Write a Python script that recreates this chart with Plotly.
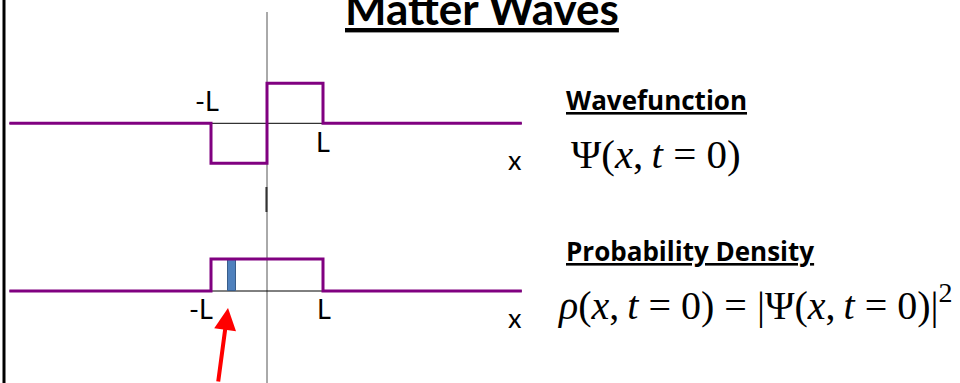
import plotly.graph_objects as go

# Step wavefunction at t = 0, x in units of L
psi_x = [-4.6, -1, -1, 0, 0, 1, 1, 4.55]
psi_y = [0, 0, -1, -1, 1, 1, 0, 0]

# Probability density is |psi|^2 on the same grid
rho_x = psi_x
rho_y = [v * v for v in psi_y]

# Highlighted slice dx of the probability density
slice_x = [-0.63]
slice_w = [0.14]
slice_h = [1.0]

# Axis extent and tick labels
axis_x = [-4.6, 4.55]
tick_vals = [-1, 1]
tick_text = ["-L", "L"]

W, H = 960, 383
PURPLE = "#800080"
SANS = "Lato"
SERIF = "Liberation Serif"
THIN = "\u2009"


def px(x):
    return x / W


def py(y):
    return 1 - y / H


fig = go.Figure()

fig.add_trace(go.Bar(
    x=slice_x, y=slice_h, width=slice_w, yaxis="y2",
    marker=dict(color="#4F81BD", line=dict(color="#385D8A", width=1)),
    showlegend=False, hoverinfo="skip",
))
fig.add_trace(go.Scatter(
    x=psi_x, y=psi_y, mode="lines", yaxis="y",
    line=dict(color=PURPLE, width=3),
    showlegend=False, hoverinfo="skip",
))
fig.add_trace(go.Scatter(
    x=rho_x, y=rho_y, mode="lines", yaxis="y2",
    line=dict(color=PURPLE, width=3),
    showlegend=False, hoverinfo="skip",
))

shapes = [
    # frame line on the left edge
    dict(type="line", xref="paper", yref="paper", x0=px(4), x1=px(4), y0=0, y1=1,
         line=dict(color="black", width=3)),
    # vertical axis through x = 0
    dict(type="line", xref="x", yref="paper", x0=0, x1=0, y0=0, y1=py(12),
         line=dict(color="#555555", width=1), layer="below"),
    dict(type="line", xref="x", yref="paper", x0=-0.01, x1=-0.01, y0=py(212), y1=py(187),
         line=dict(color="#333333", width=2), layer="below"),
    # horizontal axes of both panels
    dict(type="line", xref="x", yref="y", x0=axis_x[0], x1=axis_x[1], y0=0, y1=0,
         line=dict(color="black", width=1), layer="below"),
    dict(type="line", xref="x", yref="y2", x0=axis_x[0], x1=axis_x[1], y0=0, y1=0,
         line=dict(color="black", width=1), layer="below"),
]

lab_font = dict(family=SANS, size=27, color="black")
cap_font = dict(family="Open Sans", size=26, color="black")
eq_font = dict(family=SERIF, size=41, color="black")
eq2_font = dict(family=SERIF, size=40, color="black")

psi_txt = f"\u03a8(<i>x</i>,{THIN}<i>t</i> = 0)"
rho_txt = (f"<i>\u03c1</i>(<i>x</i>,{THIN}<i>t</i> = 0) = |"
           f"\u03a8(<i>x</i>,{THIN}<i>t</i> = 0)|<sup>2</sup>")

annotations = [
    # tick labels, upper panel
    dict(x=tick_vals[0], y=0, xref="x", yref="y", text=tick_text[0], showarrow=False,
         xshift=-4, yshift=23, font=lab_font),
    dict(x=tick_vals[1], y=0, xref="x", yref="y", text=tick_text[1], showarrow=False,
         xshift=0, yshift=-18, font=lab_font),
    dict(x=axis_x[1], y=0, xref="x", yref="y", text="x", showarrow=False,
         xshift=-7, yshift=-36, font=lab_font),
    # tick labels, lower panel
    dict(x=tick_vals[0], y=0, xref="x", yref="y2", text=tick_text[0], showarrow=False,
         xshift=-10, yshift=-17, font=lab_font),
    dict(x=tick_vals[1], y=0, xref="x", yref="y2", text=tick_text[1], showarrow=False,
         xshift=1, yshift=-17, font=lab_font),
    dict(x=axis_x[1], y=0, xref="x", yref="y2", text="x", showarrow=False,
         xshift=-7, yshift=-26, font=lab_font),
    # title
    dict(x=px(482), y=py(8), xref="paper", yref="paper", text="<b><u>Matter Waves</u></b>",
         showarrow=False, xanchor="center", yanchor="middle",
         font=dict(family=SANS, size=44, color="black")),
    # panel captions
    dict(x=px(564), y=py(100), xref="paper", yref="paper", text="<b><u>Wavefunction</u></b>",
         showarrow=False, xanchor="left", yanchor="middle", font=cap_font),
    dict(x=px(564), y=py(251), xref="paper", yref="paper", text="<b><u>Probability Density</u></b>",
         showarrow=False, xanchor="left", yanchor="middle", font=cap_font),
    # formulas
    dict(x=px(569), y=py(154), xref="paper", yref="paper", text=psi_txt,
         showarrow=False, xanchor="left", yanchor="middle", font=eq_font),
    dict(x=px(555), y=py(302), xref="paper", yref="paper", text=rho_txt,
         showarrow=False, xanchor="left", yanchor="middle", font=eq2_font),
    # arrow pointing at the highlighted slice
    dict(x=-0.696, y=-0.53, xref="x", yref="y2", ax=-10, ay=80, text="",
         showarrow=True, arrowhead=2, arrowsize=1.1, arrowwidth=4, arrowcolor="red",
         standoff=0),
]

fig.update_layout(
    width=W, height=H,
    margin=dict(l=0, r=0, t=0, b=0),
    paper_bgcolor="white", plot_bgcolor="white",
    xaxis=dict(range=[-267 / 56, (W - 267) / 56], visible=False, fixedrange=True),
    yaxis=dict(range=[(123.3 - H) / 40, 123.3 / 40], visible=False, fixedrange=True),
    yaxis2=dict(range=[(291 - H) / 32, 291 / 32], visible=False, overlaying="y",
                fixedrange=True),
    shapes=shapes,
    annotations=annotations,
    bargap=0,
)

fig.write_html("out.html", config={"displayModeBar": False})
